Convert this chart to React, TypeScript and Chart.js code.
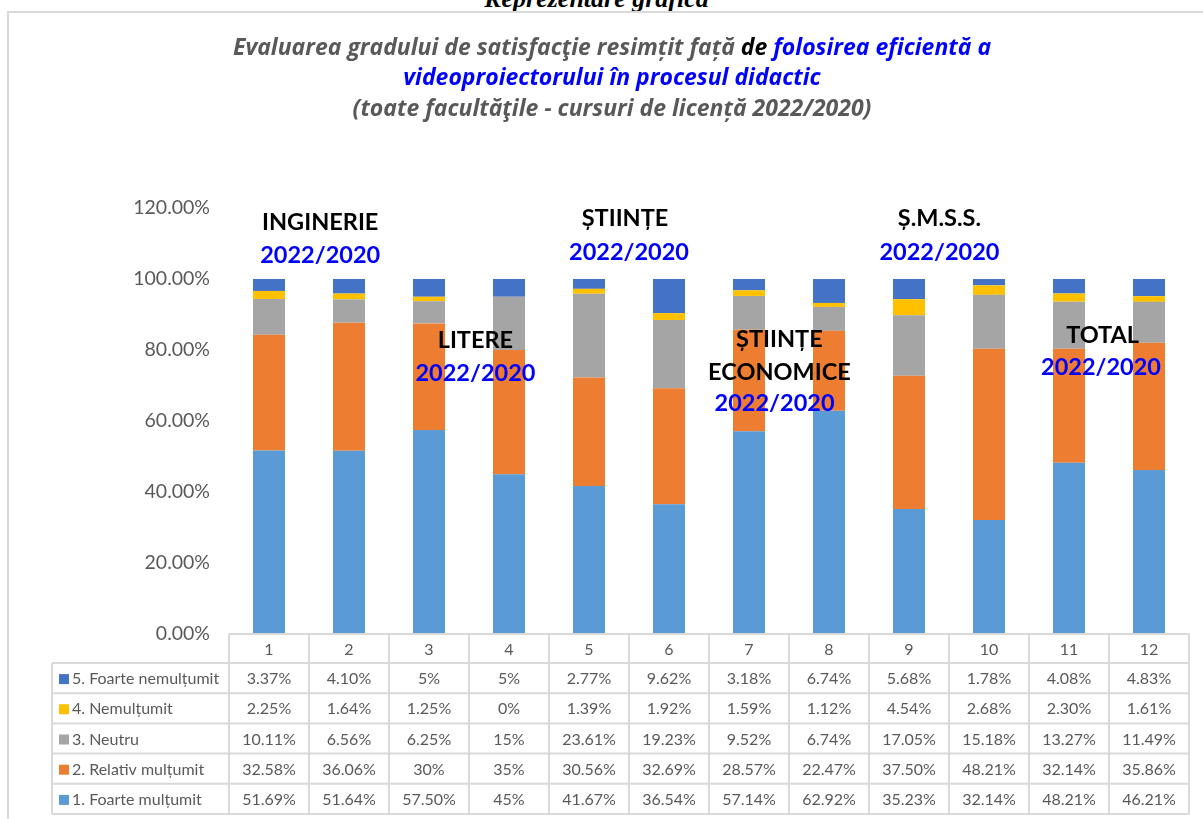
import React, { useEffect, useRef } from "react";
import { Chart, registerables } from "chart.js";

Chart.register(...registerables);

const categories = ["1", "2", "3", "4", "5", "6", "7", "8", "9", "10", "11", "12"];
const foarteMultumit = [51.69, 51.64, 57.5, 45, 41.67, 36.54, 57.14, 62.92, 35.23, 32.14, 48.21, 46.21];
const relativMultumit = [32.58, 36.06, 30, 35, 30.56, 32.69, 28.57, 22.47, 37.5, 48.21, 32.14, 35.86];
const neutru = [10.11, 6.56, 6.25, 15, 23.61, 19.23, 9.52, 6.74, 17.05, 15.18, 13.27, 11.49];
const nemultumit = [2.25, 1.64, 1.25, 0, 1.39, 1.92, 1.59, 1.12, 4.54, 2.68, 2.3, 1.61];
const foarteNemultumit = [3.37, 4.1, 5, 5, 2.77, 9.62, 3.18, 6.74, 5.68, 1.78, 4.08, 4.83];

// table cell texts as displayed
const tFoarteNem = ["3.37%", "4.10%", "5%", "5%", "2.77%", "9.62%", "3.18%", "6.74%", "5.68%", "1.78%", "4.08%", "4.83%"];
const tNem = ["2.25%", "1.64%", "1.25%", "0%", "1.39%", "1.92%", "1.59%", "1.12%", "4.54%", "2.68%", "2.30%", "1.61%"];
const tNeutru = ["10.11%", "6.56%", "6.25%", "15%", "23.61%", "19.23%", "9.52%", "6.74%", "17.05%", "15.18%", "13.27%", "11.49%"];
const tRelativ = ["32.58%", "36.06%", "30%", "35%", "30.56%", "32.69%", "28.57%", "22.47%", "37.50%", "48.21%", "32.14%", "35.86%"];
const tFoarteMul = ["51.69%", "51.64%", "57.50%", "45%", "41.67%", "36.54%", "57.14%", "62.92%", "35.23%", "32.14%", "48.21%", "46.21%"];

const seriesNames = ["1. Foarte mulțumit", "2. Relativ mulțumit", "3. Neutru", "4. Nemulțumit", "5. Foarte nemulțumit"];
const seriesColors = ["#5B9BD5", "#ED7D31", "#A5A5A5", "#FFC000", "#4472C4"];

const yTicks = [0, 20, 40, 60, 80, 100, 120];

const titleLines: [string, string][][] = [
  [
    ["Evaluarea gradului de satisfacţie resimțit față ", "#595959"],
    ["de ", "#000000"],
    ["folosirea eficientă a", "#0000FF"],
  ],
  [["videoproiectorului în procesul didactic", "#0000FF"]],
  [["(toate facultăţile - cursuri de licență 2022/2020)", "#595959"]],
];

// faculty labels: [text, color, x (category index), y (value %)]
const facultyLabels: [string, string, number, number][] = [
  ["INGINERIE", "#000000", 0.64, 116],
  ["2022/2020", "#0000FF", 0.64, 106.6],
  ["LITERE", "#000000", 2.58, 82.8],
  ["2022/2020", "#0000FF", 2.58, 73.4],
  ["ȘTIINȚE", "#000000", 4.45, 117],
  ["2022/2020", "#0000FF", 4.5, 107.6],
  ["ȘTIINȚE", "#000000", 6.38, 83],
  ["ECONOMICE", "#000000", 6.38, 73.8],
  ["2022/2020", "#0000FF", 6.32, 65],
  ["Ș.M.S.S.", "#000000", 8.38, 117],
  ["2022/2020", "#0000FF", 8.38, 107.6],
  ["TOTAL", "#000000", 10.42, 84],
  ["2022/2020", "#0000FF", 10.4, 75],
];

const FONT = "Lato, 'Open Sans', sans-serif";
const TITLE_FONT = "'Open Sans', Lato, sans-serif";

const overlayPlugin = {
  id: "overlay",
  afterDraw(chart: any) {
    const ctx = chart.ctx as CanvasRenderingContext2D;
    const area = chart.chartArea;
    const xs = chart.scales.x;
    const ys = chart.scales.y;

    // Title
    ctx.save();
    ctx.textBaseline = "middle";
    ctx.font = `italic bold 23px ${TITLE_FONT}`;
    const titleY = [48, 78, 109];
    titleLines.forEach((segs, i) => {
      const total = segs.reduce((s, [t]) => s + ctx.measureText(t).width, 0);
      let x = 612 - total / 2;
      segs.forEach(([t, c]) => {
        ctx.fillStyle = c;
        ctx.textAlign = "left";
        ctx.fillText(t, x, titleY[i]);
        x += ctx.measureText(t).width;
      });
    });
    ctx.restore();

    // Faculty labels
    ctx.save();
    ctx.font = `bold 23.5px ${FONT}`;
    ctx.textAlign = "center";
    ctx.textBaseline = "middle";
    facultyLabels.forEach(([t, c, xi, yv]) => {
      ctx.fillStyle = c;
      ctx.fillText(t, xs.getPixelForValue(xi), ys.getPixelForValue(yv));
    });
    ctx.restore();

    // Data table
    const colW = (area.right - area.left) / categories.length;
    const top = area.bottom;
    const headH = 29;
    const rowH = 30.2;
    const legendLeft = 52;
    const rows = [
      [seriesNames[4], seriesColors[4], tFoarteNem],
      [seriesNames[3], seriesColors[3], tNem],
      [seriesNames[2], seriesColors[2], tNeutru],
      [seriesNames[1], seriesColors[1], tRelativ],
      [seriesNames[0], seriesColors[0], tFoarteMul],
    ] as [string, string, string[]][];
    const bottom = top + headH + rowH * rows.length;
    ctx.save();
    ctx.strokeStyle = "#D9D9D9";
    ctx.lineWidth = 2;
    ctx.beginPath();
    ctx.moveTo(area.left, top);
    ctx.lineTo(area.right, top);
    for (let r = 0; r <= rows.length; r++) {
      const y = top + headH + r * rowH;
      ctx.moveTo(legendLeft, y);
      ctx.lineTo(area.right, y);
    }
    for (let c = 0; c <= categories.length; c++) {
      const x = area.left + c * colW;
      ctx.moveTo(x, top);
      ctx.lineTo(x, bottom);
    }
    ctx.moveTo(legendLeft, top + headH);
    ctx.lineTo(legendLeft, bottom);
    ctx.stroke();

    ctx.fillStyle = "#595959";
    ctx.font = `16px ${FONT}`;
    ctx.textAlign = "center";
    ctx.textBaseline = "middle";
    categories.forEach((c, i) => {
      ctx.fillText(c, area.left + (i + 0.5) * colW, top + headH / 2 + 1);
    });
    rows.forEach(([name, color, vals], r) => {
      const cy = top + headH + (r + 0.5) * rowH + 1;
      ctx.fillStyle = color;
      ctx.fillRect(legendLeft + 7, cy - 5, 10, 10);
      ctx.fillStyle = "#595959";
      ctx.textAlign = "left";
      ctx.fillText(name, legendLeft + 20, cy);
      ctx.textAlign = "center";
      vals.forEach((v, i) => {
        ctx.fillText(v, area.left + (i + 0.5) * colW, cy);
      });
    });
    ctx.restore();
  },
};

export default function App() {
  const ref = useRef<HTMLCanvasElement>(null);
  useEffect(() => {
    if (!ref.current) return;
    const seriesData = [foarteMultumit, relativMultumit, neutru, nemultumit, foarteNemultumit];
    const chart = new Chart(ref.current, {
      type: "bar",
      data: {
        labels: categories,
        datasets: seriesData.map((d, i) => ({
          label: seriesNames[i],
          data: d,
          backgroundColor: seriesColors[i],
          borderWidth: 0,
          barPercentage: 0.4,
          categoryPercentage: 1,
        })),
      },
      options: {
        responsive: false,
        animation: false,
        layout: { padding: { top: 208, bottom: 185, right: 14, left: 0 } },
        plugins: {
          legend: { display: false },
          title: { display: false },
          tooltip: { enabled: false },
        },
        scales: {
          x: { stacked: true, display: false },
          y: {
            stacked: true,
            min: 0,
            max: 120,
            afterBuildTicks: (s: any) => {
              s.ticks = yTicks.map((v) => ({ value: v }));
            },
            afterFit: (s: any) => {
              s.width = 229;
            },
            grid: { display: false, drawTicks: false },
            border: { display: false },
            ticks: {
              padding: 19,
              color: "#595959",
              font: { family: FONT, size: 19.5 },
              callback: (v: any) => Number(v).toFixed(2) + "%",
            },
          },
        },
      },
      plugins: [overlayPlugin],
    });
    return () => chart.destroy();
  }, []);

  return (
    <div style={{ position: "fixed", left: 0, top: 0, width: 1203, height: 819, overflow: "hidden", background: "#fff" }}>
      <div
        style={{
          position: "absolute",
          left: 0,
          width: 1203,
          top: -16,
          textAlign: "center",
          fontFamily: "'Liberation Serif', 'DejaVu Serif', serif",
          fontWeight: "bold",
          fontStyle: "italic",
          fontSize: 26,
          lineHeight: "30px",
        }}
      >
        <span style={{ position: "relative", left: -5 }}>Reprezentare grafică</span>
      </div>
      <div
        style={{
          position: "absolute",
          left: 7,
          top: 11,
          width: 1300,
          height: 900,
          border: "2px solid #D9D9D9",
          boxSizing: "border-box",
        }}
      />
      <canvas ref={ref} width={1203} height={819} style={{ position: "absolute", left: 0, top: 0 }} />
    </div>
  );
}
